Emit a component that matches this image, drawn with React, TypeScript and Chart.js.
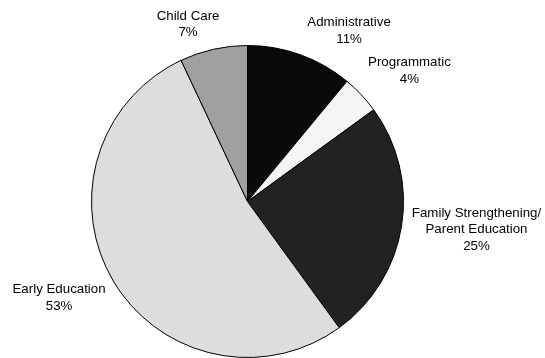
import React, { useEffect, useRef } from "react";
import { Chart, registerables } from "chart.js";

Chart.register(...registerables);

const categories = ["Administrative", "Programmatic", "Family Strengthening/\nParent Education", "Early Education", "Child Care"];
const values = [11, 4, 25, 53, 7];
const percentLabels = ["11%", "4%", "25%", "53%", "7%"];
const colors = ["#0a0a0a", "#f4f4f4", "#222222", "#dddddd", "#a0a0a0"];
// label anchor, in units of the pie radius, relative to the pie centre
const labelOffsets: [number, number][] = [
  [0.651, -1.093],
  [1.038, -0.838],
  [1.468, 0.179],
  [-1.208, 0.619],
  [-0.381, -1.135],
];

const labelPlugin = {
  id: "outerLabels",
  afterDraw(chart: any) {
    const meta = chart.getDatasetMeta(0);
    const ctx = chart.ctx;
    ctx.save();
    ctx.font = '13.3px "Liberation Sans", Arial, sans-serif';
    ctx.fillStyle = "#000";
    ctx.textAlign = "center";
    ctx.textBaseline = "middle";
    meta.data.forEach((arc: any, i: number) => {
      const { x, y, outerRadius } = arc.getProps(["x", "y", "outerRadius"], true);
      const lines = categories[i].split("\n").concat([percentLabels[i]]);
      const cx = x + labelOffsets[i][0] * outerRadius;
      const cy = y + labelOffsets[i][1] * outerRadius;
      const lh = 16.5;
      const start = cy - ((lines.length - 1) * lh) / 2;
      lines.forEach((ln, k) => ctx.fillText(ln, cx, start + k * lh));
    });
    ctx.restore();
  },
};

export default function App() {
  const ref = useRef<HTMLCanvasElement>(null);
  useEffect(() => {
    document.body.style.margin = "0";
    const chart = new Chart(ref.current!, {
      type: "pie",
      data: {
        labels: categories,
        datasets: [
          {
            data: values,
            backgroundColor: colors,
            borderColor: "#000",
            borderWidth: 1,
          },
        ],
      },
      options: {
        animation: false,
        responsive: false,
        events: [],
        layout: { padding: { left: 91, right: 141, top: 45, bottom: 0 } },
        plugins: { legend: { display: false }, tooltip: { enabled: false } },
      },
      plugins: [labelPlugin],
    });
    return () => chart.destroy();
  }, []);
  return <canvas ref={ref} width={545} height={358} style={{ display: "block" }} />;
}
